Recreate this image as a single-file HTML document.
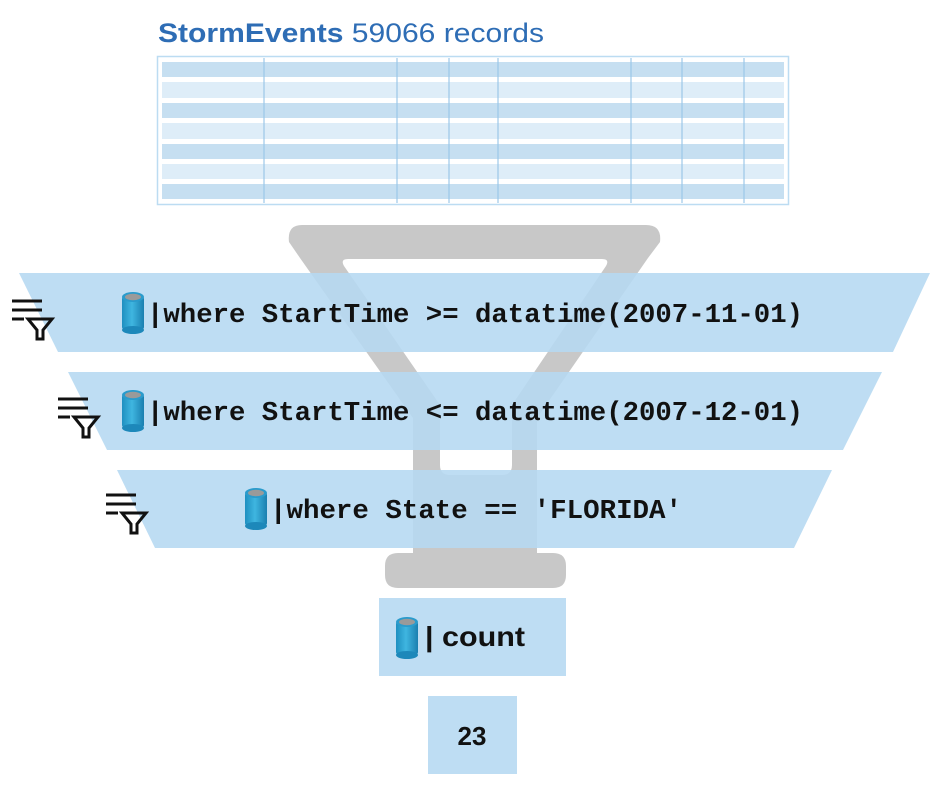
<!DOCTYPE html>
<html><head><meta charset="utf-8"><style>
html,body{margin:0;padding:0;background:#fff;width:942px;height:785px;overflow:hidden}
svg{display:block}
.code{font-family:"Liberation Mono",monospace;font-weight:bold;font-size:27px;fill:#111}
</style></head><body>
<svg width="942" height="785" viewBox="0 0 942 785" xmlns="http://www.w3.org/2000/svg">
<defs>
<linearGradient id="cy" x1="0" x2="1" y1="0" y2="0">
<stop offset="0" stop-color="#1e8fc0"/><stop offset="0.45" stop-color="#3fb6e0"/><stop offset="1" stop-color="#1a7fb0"/></linearGradient>
<g id="cyl">
<rect x="0" y="4" width="22" height="34" rx="3" fill="url(#cy)"/>
<ellipse cx="11" cy="38" rx="11" ry="4" fill="#1d88ba"/>
<ellipse cx="11" cy="5" rx="11" ry="5" fill="#2a9bcc"/>
<ellipse cx="11" cy="5" rx="8" ry="3.2" fill="#9a9a9a"/>
</g>
<g id="filt" stroke="#111" stroke-width="3" fill="none">
<line x1="0" y1="2" x2="30" y2="2"/><line x1="0" y1="11" x2="30" y2="11"/><line x1="0" y1="20" x2="12" y2="20"/>
<path d="M16,20 L40,20 L31,31 L31,40 L25,40 L25,31 Z" stroke-linejoin="miter"/>
</g>
</defs>
<text x="158" y="42" font-family="Liberation Sans,sans-serif" font-size="27" fill="#2e6db5" textLength="386" lengthAdjust="spacingAndGlyphs"><tspan font-weight="bold">StormEvents</tspan> 59066 records</text>
<rect x="157.5" y="56.5" width="631" height="148" fill="#fff" stroke="#bcdcf2" stroke-width="1.5"/>
<g fill="#c6dff1">
<rect x="162" y="62" width="622" height="15"/><rect x="162" y="103" width="622" height="15"/><rect x="162" y="144" width="622" height="15"/><rect x="162" y="184" width="622" height="15"/></g>
<g fill="#deedf8">
<rect x="162" y="82" width="622" height="16"/><rect x="162" y="123" width="622" height="16"/><rect x="162" y="164" width="622" height="15"/></g>
<g stroke="#9cc8e8" stroke-width="1.2">
<line x1="264" y1="58" x2="264" y2="203"/><line x1="397" y1="58" x2="397" y2="203"/><line x1="449" y1="58" x2="449" y2="203"/><line x1="498" y1="58" x2="498" y2="203"/><line x1="631" y1="58" x2="631" y2="203"/><line x1="682" y1="58" x2="682" y2="203"/><line x1="744" y1="58" x2="744" y2="203"/></g>
<path fill="#c8c8c8" fill-rule="evenodd" d="M302,225 L646,225 Q662,225 660,242 L648,258 L537,418 L537,553 L553,553 Q566,553 566,566 L566,575 Q566,588 553,588 L398,588 Q385,588 385,575 L385,566 Q385,553 398,553 L413,553 L413,418 L300,258 L289,242 Q287,225 302,225 Z
M348,259 L602,259 Q610,259 606,266 L512,405 L512,465 Q512,475 502,475 L450,475 Q440,475 440,465 L440,405 L344,266 Q340,259 348,259 Z"/>
<g fill="#b5d8f1" fill-opacity="0.88">
<polygon points="19,273 930,273 893,352 58,352"/>
<polygon points="68,372 882,372 843,450 107,450"/>
<polygon points="117,470 832,470 794,548 155,548"/>
<rect x="379" y="598" width="187" height="78"/>
<rect x="428" y="696" width="89" height="78"/>
</g>
<use href="#filt" x="12" y="299"/>
<use href="#filt" x="58" y="397"/>
<use href="#filt" x="106" y="493"/>
<use href="#cyl" x="122" y="292"/>
<use href="#cyl" x="122" y="390"/>
<use href="#cyl" x="245" y="488"/>
<use href="#cyl" x="396" y="617"/>
<text class="code" x="147" y="322" textLength="656" lengthAdjust="spacingAndGlyphs">|where StartTime &gt;= datatime(2007-11-01)</text>
<text class="code" x="147" y="420" textLength="656" lengthAdjust="spacingAndGlyphs">|where StartTime &lt;= datatime(2007-12-01)</text>
<text class="code" x="270" y="518" textLength="412" lengthAdjust="spacingAndGlyphs">|where State == 'FLORIDA'</text>
<text x="425" y="646" font-family="Liberation Sans,sans-serif" font-weight="bold" font-size="28" fill="#111" textLength="100" lengthAdjust="spacingAndGlyphs">| count</text>
<text x="472" y="745" text-anchor="middle" font-family="Liberation Sans,sans-serif" font-weight="bold" font-size="26" fill="#111">23</text>
</svg>
</body></html>
